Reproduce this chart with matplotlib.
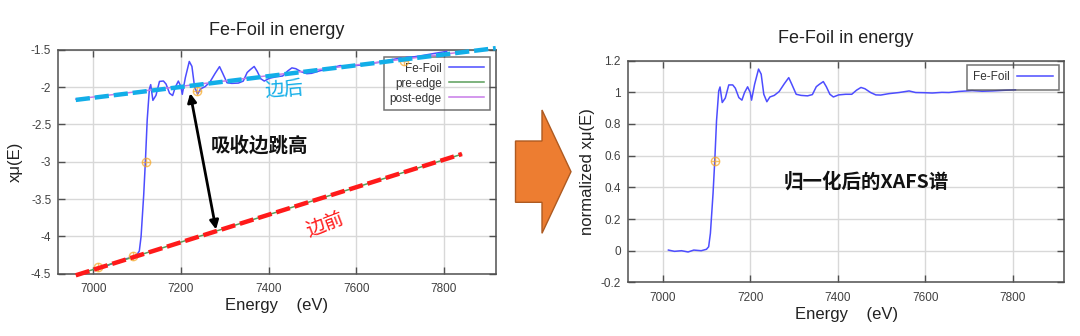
import matplotlib
matplotlib.use("Agg")
import matplotlib.pyplot as plt
from matplotlib.patches import Polygon
from matplotlib.ticker import FormatStrFormatter

plt.rcParams['font.family'] = ['Liberation Sans', 'DejaVu Sans']
CJK = ['Noto Sans CJK SC', 'DejaVu Sans']

# ---------------- data ----------------
energy = [7013, 7027, 7043, 7058, 7071, 7088, 7100, 7105, 7109, 7115, 7119, 7123,
          7128, 7131, 7136, 7143, 7151, 7160, 7166, 7174, 7181, 7187, 7194, 7200,
          7203, 7210, 7219, 7225, 7231, 7238, 7245, 7255, 7266, 7278, 7288, 7295,
          7305, 7316, 7331, 7342, 7351, 7358, 7367, 7374, 7382, 7390, 7402, 7418,
          7432, 7443, 7453, 7462, 7475, 7487, 7498, 7517, 7540, 7563, 7578, 7597,
          7616, 7638, 7654, 7677, 7707, 7730, 7753, 7780, 7806]

mu_raw = [-4.414, -4.406, -4.367, -4.357, -4.307, -4.285, -4.243, -4.198, -4.005,
          -3.446, -2.979, -2.437, -2.022, -1.965, -2.176, -2.109, -1.922, -1.916,
          -1.957, -2.081, -2.111, -2.001, -1.917, -1.992, -2.095, -1.871, -1.654,
          -1.720, -1.994, -2.092, -2.021, -1.992, -1.931, -1.813, -1.723, -1.810,
          -1.940, -1.948, -1.944, -1.918, -1.802, -1.764, -1.721, -1.788, -1.885,
          -1.917, -1.879, -1.859, -1.849, -1.784, -1.740, -1.751, -1.794, -1.818,
          -1.813, -1.779, -1.747, -1.709, -1.720, -1.709, -1.699, -1.675, -1.665,
          -1.634, -1.601, -1.593, -1.572, -1.544, -1.519]

mu_norm = [0.004, -0.004, 0.0, -0.008, 0.004, 0.0, 0.009, 0.025, 0.11, 0.36, 0.57,
           0.82, 1.008, 1.033, 0.935, 0.963, 1.046, 1.046, 1.025, 0.966, 0.95, 0.998,
           1.034, 0.998, 0.95, 1.05, 1.146, 1.114, 0.987, 0.94, 0.97, 0.98, 1.004,
           1.054, 1.092, 1.05, 0.987, 0.98, 0.977, 0.985, 1.035, 1.05, 1.067, 1.034,
           0.987, 0.97, 0.983, 0.987, 0.987, 1.013, 1.03, 1.022, 0.998, 0.983, 0.982,
           0.991, 0.998, 1.008, 0.998, 0.997, 0.995, 0.999, 0.998, 1.005, 1.01, 1.006,
           1.008, 1.012, 1.015]

pre_edge_x = [6960, 7840]
pre_edge_y = [-4.52, -2.90]
post_edge_x = [6960, 7830]
post_edge_y = [-2.16, -1.535]

guide_after_x = [6960, 7918]
guide_after_y = [-2.17, -1.475]
guide_before_x = [6960, 7841]
guide_before_y = [-4.524, -2.896]

left_marks_x = [7011, 7090, 7121, 7236, 7708]
left_marks_y = [-4.41, -4.27, -3.007, -2.046, -1.648]
right_marks_x = [7119]
right_marks_y = [0.568]

left_yticks = [-4.5, -4, -3.5, -3, -2.5, -2, -1.5]
right_yticks = [-0.2, 0, 0.2, 0.4, 0.6, 0.8, 1.0, 1.2]
xticks = [7000, 7200, 7400, 7600, 7800]

# ---------------- styles ----------------
BLUE = '#4d4dff'
GREEN = '#5a9e5a'
VIOLET = '#c77ae8'
CYAN = '#12aee8'
RED = '#ff1a1a'
ORANGE = '#f5a623'
FRAME = '#505050'
TICKC = '#404040'

fig = plt.figure(figsize=(10.8, 3.36), dpi=100)
axL = fig.add_axes([0.0539, 0.186, 0.4051, 0.6652])
axR = fig.add_axes([0.5812, 0.1595, 0.4044, 0.6604])


def style(ax, pad):
    ax.set_xlim(6920, 7918)
    ax.set_xticks(xticks)
    ax.grid(True, color='#d8d8d8', lw=1.0)
    ax.set_axisbelow(True)
    for s in ax.spines.values():
        s.set_color(FRAME)
        s.set_linewidth(1.1)
    ax.tick_params(direction='in', length=5, width=1.0, color=FRAME,
                   top=True, right=True, labelsize=8.5, labelcolor=TICKC)
    ax.tick_params(axis='x', pad=7)
    ax.tick_params(axis='y', pad=5)
    ax.yaxis.set_major_formatter(FormatStrFormatter('%g'))
    ax.set_xlabel('Energy    (eV)', fontsize=12, color='#222222', labelpad=2)
    ax.set_title('Fe-Foil in energy', fontsize=13, color='#222222', pad=pad)


# ---------------- left panel ----------------
style(axL, 11)
axL.set_ylim(-4.5, -1.5)
axL.set_yticks(left_yticks)
axL.set_ylabel('xμ(E)', fontsize=12, color='#222222', labelpad=6)

lf, = axL.plot(energy, mu_raw, color=BLUE, lw=1.1, zorder=3, label='Fe-Foil')
lp, = axL.plot(pre_edge_x, pre_edge_y, color=GREEN, lw=1.1, zorder=3, label='pre-edge')
lq, = axL.plot(post_edge_x, post_edge_y, color=VIOLET, lw=1.1, zorder=3, label='post-edge')
axL.plot(left_marks_x, left_marks_y, 'o', ms=6, mfc='none', mec=ORANGE, mew=1.0,
         alpha=0.7, zorder=4)
axL.plot(left_marks_x, left_marks_y, '+', ms=6, mec=ORANGE, mew=1.0, alpha=0.7, zorder=4)

axL.plot(guide_after_x, guide_after_y, color=CYAN, lw=3.2, dashes=(3.2, 1.1),
         zorder=5, clip_on=False, dash_capstyle='butt')
axL.plot(guide_before_x, guide_before_y, color=RED, lw=3.2, dashes=(3.2, 1.1),
         zorder=5, clip_on=False, dash_capstyle='butt')

legL = axL.legend(handles=[lf, lp, lq], loc='upper right', bbox_to_anchor=(0.987, 0.970),
                  fontsize=8.5, markerfirst=False, frameon=True, fancybox=False,
                  handlelength=3.0, handletextpad=0.6, labelspacing=0.25,
                  borderpad=0.5, borderaxespad=0)
legL.get_frame().set_edgecolor(FRAME)
legL.get_frame().set_facecolor('none')
legL.get_frame().set_linewidth(1.1)
legL.set_zorder(2)
for t in legL.get_texts():
    t.set_color('#333333')

axL.annotate('', xy=(7221, -2.08), xytext=(7280, -3.91),
             arrowprops=dict(arrowstyle='<|-|>', color='black', lw=2.0,
                             mutation_scale=13, shrinkA=0, shrinkB=0), zorder=6)
axL.text(7267, -2.785, '吸收边跳高', family=CJK, fontsize=14, fontweight='bold',
         color='#111111', va='center', ha='left', zorder=6)
axL.text(7435, -2.037, '边后', family=CJK, fontsize=14, color=CYAN,
         va='center', ha='center', rotation=5, zorder=6)
axL.text(7529, -3.85, '边前', family=CJK, fontsize=14, color=RED,
         va='center', ha='center', rotation=21, zorder=6)

# ---------------- right panel ----------------
style(axR, 12.5)
axR.set_ylim(-0.2, 1.2)
axR.set_yticks(right_yticks)
axR.set_ylabel('normalized xμ(E)', fontsize=12, color='#222222', labelpad=4)
ln, = axR.plot(energy, mu_norm, color=BLUE, lw=1.1, zorder=3, label='Fe-Foil')
axR.plot(right_marks_x, right_marks_y, 'o', ms=6, mfc='none', mec=ORANGE, mew=1.0,
         alpha=0.7, zorder=4)
axR.plot(right_marks_x, right_marks_y, '+', ms=6, mec=ORANGE, mew=1.0, alpha=0.7, zorder=4)
legR = axR.legend(handles=[ln], loc='upper right', bbox_to_anchor=(0.9877, 0.98),
                  fontsize=8.5, markerfirst=False, frameon=True, fancybox=False,
                  handlelength=3.0, handletextpad=0.6, borderpad=0.55, borderaxespad=0)
legR.get_frame().set_edgecolor(FRAME)
legR.get_frame().set_facecolor('none')
legR.get_frame().set_linewidth(1.1)
for t in legR.get_texts():
    t.set_color('#333333')
axR.text(7276, 0.435, '归一化后的XAFS谱', family=CJK, fontsize=14, fontweight='bold',
         color='#111111', va='center', ha='left', zorder=6)

# ---------------- big orange arrow between panels ----------------
W, H = 1080.0, 336.0
pts_px = [(515.5, 141), (542, 141), (542, 110), (571, 171.7), (542, 233.3),
          (542, 202.3), (515.5, 202.3)]
arrow = Polygon([(x / W, 1 - y / H) for x, y in pts_px], closed=True,
                transform=fig.transFigure, facecolor='#ed7d31', edgecolor='#ae5a21',
                lw=1.0, zorder=10)
fig.patches.append(arrow)

fig.savefig('out.png', dpi=100)
